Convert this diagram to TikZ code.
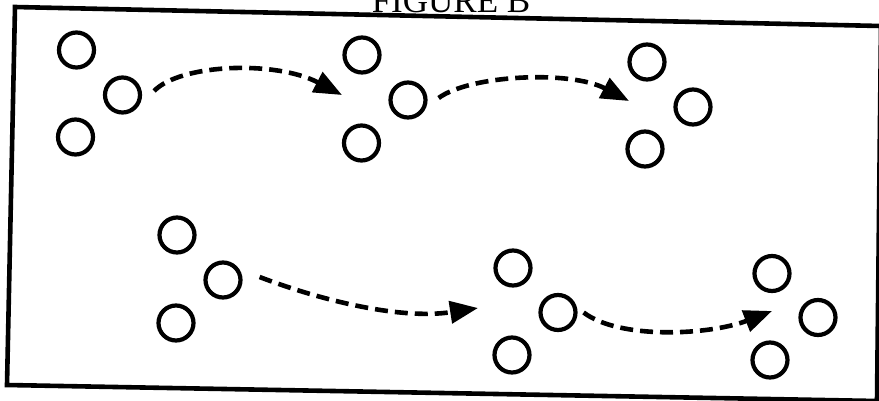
\documentclass[tikz,border=0pt]{standalone}
\usepackage{fontspec}
\setmainfont{Liberation Serif}
\usetikzlibrary{arrows.meta}
\begin{document}
\begin{tikzpicture}[x=1pt,y=-1pt,
  ring/.style={circle,draw,line width=4.2pt,minimum size=35pt,inner sep=0pt},
  flow/.style={line width=4.6pt,dash pattern=on 13pt off 7pt,-{Triangle[length=28pt,width=22pt]}},
  frame/.style={line width=4.6pt,line join=miter}]
\useasboundingbox (0,0) rectangle (879,400);
% title
\node[anchor=base,font=\fontsize{35}{40}\selectfont,inner sep=0pt] (title) at (451,12) {FIGURE B};
% frame
\coordinate (tl) at (15,7);
\coordinate (tr) at (881,26);
\coordinate (br) at (877,401);
\coordinate (bl) at (7,385);
\draw[frame] (tl) -- (tr) -- (br) -- (bl) -- cycle;
% groups
\node[ring] (a1) at (76.5,50) {};
\node[ring] (a2) at (122.5,95) {};
\node[ring] (a3) at (75.5,137) {};
\node[ring] (b1) at (362,55) {};
\node[ring] (b2) at (408,100) {};
\node[ring] (b3) at (361.5,143) {};
\node[ring] (c1) at (647,62) {};
\node[ring] (c2) at (693,107) {};
\node[ring] (c3) at (645,149) {};
\node[ring] (d1) at (177,235) {};
\node[ring] (d2) at (223,280) {};
\node[ring] (d3) at (176,323) {};
\node[ring] (e1) at (513,268) {};
\node[ring] (e2) at (558,312.5) {};
\node[ring] (e3) at (512,355) {};
\node[ring] (f1) at (772,273.5) {};
\node[ring] (f2) at (818,317.5) {};
\node[ring] (f3) at (770,360) {};
% arrow ends
\coordinate (t1) at (342,95);
\coordinate (t2) at (629,101);
\coordinate (t3) at (478,308);
\coordinate (t4) at (772,311);
% arrows
\draw[flow] ([shift={(12,-4)}]a2.east) .. controls (180,64) and (275,60) .. (t1);
\draw[flow] ([shift={(11,-2)}]b2.east) .. controls (470,75) and (570,70) .. (t2);
\draw[flow] ([shift={(17,-3)}]d2.east) .. controls (320,300) and (400,320) .. (t3);
\draw[flow] ([shift={(6,0)}]e2.east) .. controls (620,340) and (710,335) .. (t4);
\end{tikzpicture}
\end{document}
